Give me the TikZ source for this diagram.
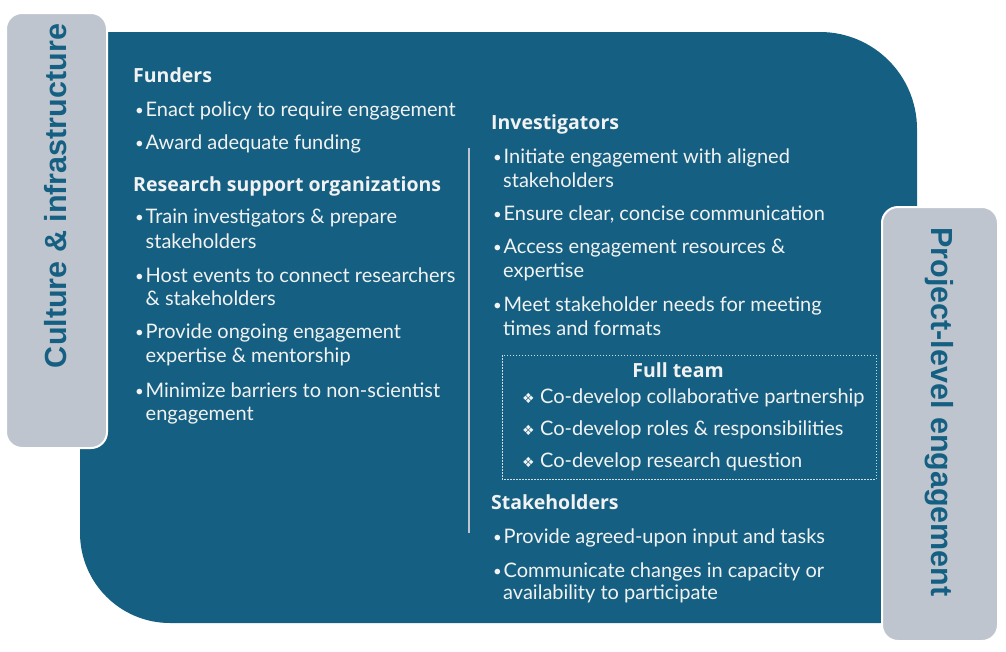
\documentclass[tikz,border=0pt]{standalone}
\usepackage{fontspec}
\setmainfont{Lato}
\newfontfamily\headfont{Open Sans}
\newfontfamily\tabfont{Liberation Sans}
\newfontfamily\symfont{DejaVu Sans}
\definecolor{mainblue}{HTML}{156082}
\definecolor{tabgrey}{HTML}{BEC5CE}
\definecolor{textwhite}{HTML}{F2F2F2}
\newcommand{\bul}{\makebox[10.5pt][l]{\raisebox{0.5pt}{\fontsize{15}{15}\selectfont•}}}
\newcommand{\dia}{\makebox[18pt][l]{{\symfont\fontsize{14}{14}\selectfont ❖}}}

\begin{document}
\begin{tikzpicture}[x=1pt,y=-1pt,
    tab node/.style={fill=tabgrey,draw=white,line width=2pt,rounded corners=16pt},
    tab text/.style={font=\tabfont\bfseries\fontsize{30.5}{36}\selectfont,text=mainblue,inner sep=0pt},
    head/.style={anchor=base west,inner sep=0pt,font=\headfont\bfseries\fontsize{19.5}{24}\selectfont,text=textwhite},
    item/.style={anchor=base west,inner sep=0pt,font=\fontsize{20}{24}\selectfont,text=textwhite}]
  \useasboundingbox (0,0) rectangle (1006,651);
  % main panel
  \fill[mainblue] (80,32) -- (600,32) [rounded corners=97pt] -- (917,32) -- (917,400) [sharp corners]
    -- (917,623) -- (400,623) [rounded corners=90pt] -- (80,623) -- (80,400) [sharp corners] -- cycle;
  % tabs
  \draw[tab node] (6,13) rectangle (107,448);
  \draw[tab node] (882,207) rectangle (998,641);
  \node[tab text,rotate=90] (culture) at (56,196) {Culture \& infrastructure};
  \node[tab text,rotate=-90] (project) at (939,412) {Project-level engagement};
  % divider
  \coordinate (dtop) at (469,148);
  \coordinate (dbot) at (469,533);
  \draw[tabgrey,line width=1.5pt] (dtop) -- (dbot);

  % left column
  \node[head] (fund) at (133,82) {Funders};
  \node[item] (fund1) at (135,116) {\bul Enact policy to require engagement};
  \node[item] (fund2) at (135,149) {\bul Award adequate funding};
  \node[head] (rso) at (133,191) {Research support organizations};
  \node[item] (rso1) at (135,223) {\bul Train investigators \& prepare};
  \node[item] (rso1b) at (145.5,248) {stakeholders};
  \node[item] (rso2) at (135,282) {\bul Host events to connect researchers};
  \node[item] (rso2b) at (145.5,305) {\& stakeholders};
  \node[item] (rso3) at (135,338) {\bul Provide ongoing engagement};
  \node[item] (rso3b) at (145.5,362) {expertise \& mentorship};
  \node[item] (rso4) at (135,397) {\bul Minimize barriers to non-scientist};
  \node[item] (rso4b) at (145.5,420) {engagement};

  % right column
  \node[head] (inv) at (491,129) {Investigators};
  \node[item] (inv1) at (493,163) {\bul Initiate engagement with aligned};
  \node[item] (inv1b) at (503,187) {stakeholders};
  \node[item] (inv2) at (493,220) {\bul Ensure clear, concise communication};
  \node[item] (inv3) at (493,253) {\bul Access engagement resources \&};
  \node[item] (inv3b) at (503,277) {expertise};
  \node[item] (inv4) at (493,311) {\bul Meet stakeholder needs for meeting};
  \node[item] (inv4b) at (503,335) {times and formats};

  % full team box
  \draw[textwhite!85!mainblue,line width=1pt,dash pattern=on 1.5pt off 1.5pt] (502,355) rectangle (876,479);
  \node[head,anchor=base] (team) at (678,377) {Full team};
  \node[item] (team1) at (522,403) {\dia Co-develop collaborative partnership};
  \node[item] (team2) at (522,435) {\dia Co-develop roles \& responsibilities};
  \node[item] (team3) at (522,467) {\dia Co-develop research question};

  \node[head] (sh) at (491,509) {Stakeholders};
  \node[item] (sh1) at (493,543) {\bul Provide agreed-upon input and tasks};
  \node[item] (sh2) at (493,577) {\bul Communicate changes in capacity or};
  \node[item] (sh2b) at (503,599) {availability to participate};
\end{tikzpicture}
\end{document}
